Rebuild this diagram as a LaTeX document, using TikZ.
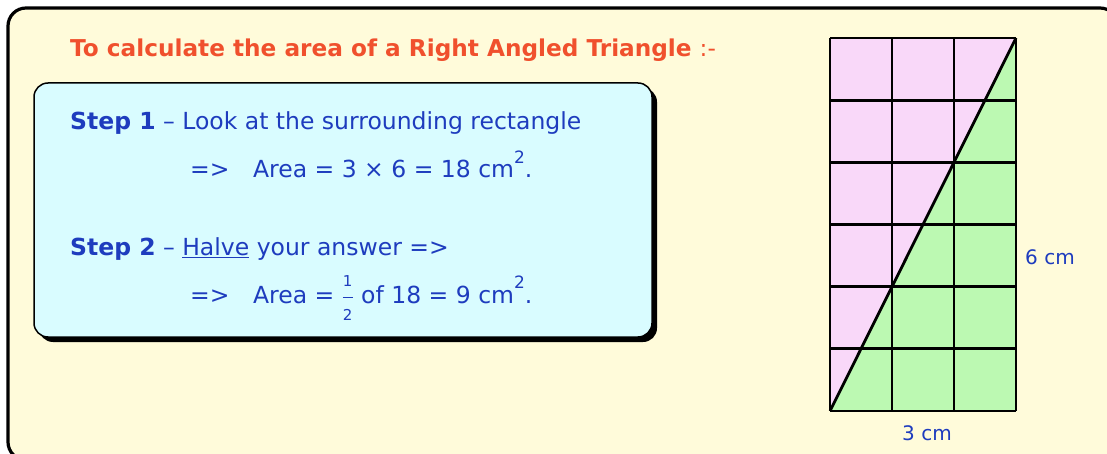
\documentclass[tikz,border=0pt]{standalone}
\usepackage{fontspec}
\setmainfont{DejaVu Sans}
\usetikzlibrary{positioning}
\definecolor{mcream}{RGB}{255,251,218}
\definecolor{mcyan}{RGB}{217,252,255}
\definecolor{mpink}{RGB}{249,216,249}
\definecolor{mgreen}{RGB}{188,249,178}
\definecolor{mred}{RGB}{240,80,45}
\definecolor{mblue}{RGB}{30,60,190}
\newcommand{\sqpow}{\raisebox{0.62em}{\fontsize{17}{17}\selectfont 2}}

\begin{document}
\begin{tikzpicture}[
    x=1pt, y=-1pt,
    line join=round,
    txt/.style={anchor=base west,
        inner sep=0pt,
        text=mblue,
        font=\fontsize{23.5}{28}\selectfont},
    lbl/.style={anchor=base,
        inner sep=0pt,
        text=mblue,
        font=\fontsize{20}{24}\selectfont},
    gridline/.style={line width=2.8pt, black}]

\useasboundingbox (0,0) rectangle (1107,454);

% Outer frame
\draw[line width=3.2pt, fill=mcream, rounded corners=18pt] (8,8) rectangle (1118,460);

% Title
\node[anchor=base west,
    inner sep=0pt,
    text=mred,
    font=\bfseries\fontsize{23.2}{28}\selectfont] (title) at (70,57)
    {To calculate the area of a Right Angled Triangle \mdseries:-};

% Step box with its shadow
\fill[black, rounded corners=14pt] (39,88) rectangle (657,342);
\draw[line width=1.5pt, fill=mcyan, rounded corners=14pt] (34,83) rectangle (652,337);

% Step 1
\node[txt] (step1) at (70,130) {\textbf{Step 1} – Look at the surrounding rectangle};
\node[txt] (area1) at (190,178) {=>\quad Area = 3 × 6 = 18 cm\sqpow.};

% Step 2
\node[txt] (step2) at (70,255) {\textbf{Step 2} – \underline{Halve} your answer =>};
\node[txt] (area2) at (190,303)
    {=>\quad Area = $\displaystyle\frac{\mbox{\fontsize{15}{15}\selectfont 1}}{\mbox{\fontsize{15}{15}\selectfont 2}}$ of 18 = 9 cm\sqpow.};

% Rectangle split by the diagonal
\fill[mpink] (830,38) -- (1016,38) -- (830,411) -- cycle;
\fill[mgreen] (1016,38) -- (1016,411) -- (830,411) -- cycle;
\foreach \i in {0,...,3}
    \draw[gridline] ({830+62*\i},38) -- ({830+62*\i},411);
\foreach \j in {0,...,6}
    \draw[gridline] (830,{38+373/6*\j}) -- (1016,{38+373/6*\j});
\draw[gridline] (830,411) -- (1016,38);

% Side lengths
\node[lbl] (six) at (1050,264) {6 cm};
\node[lbl] (three) at (927,440) {3 cm};

\end{tikzpicture}
\end{document}
